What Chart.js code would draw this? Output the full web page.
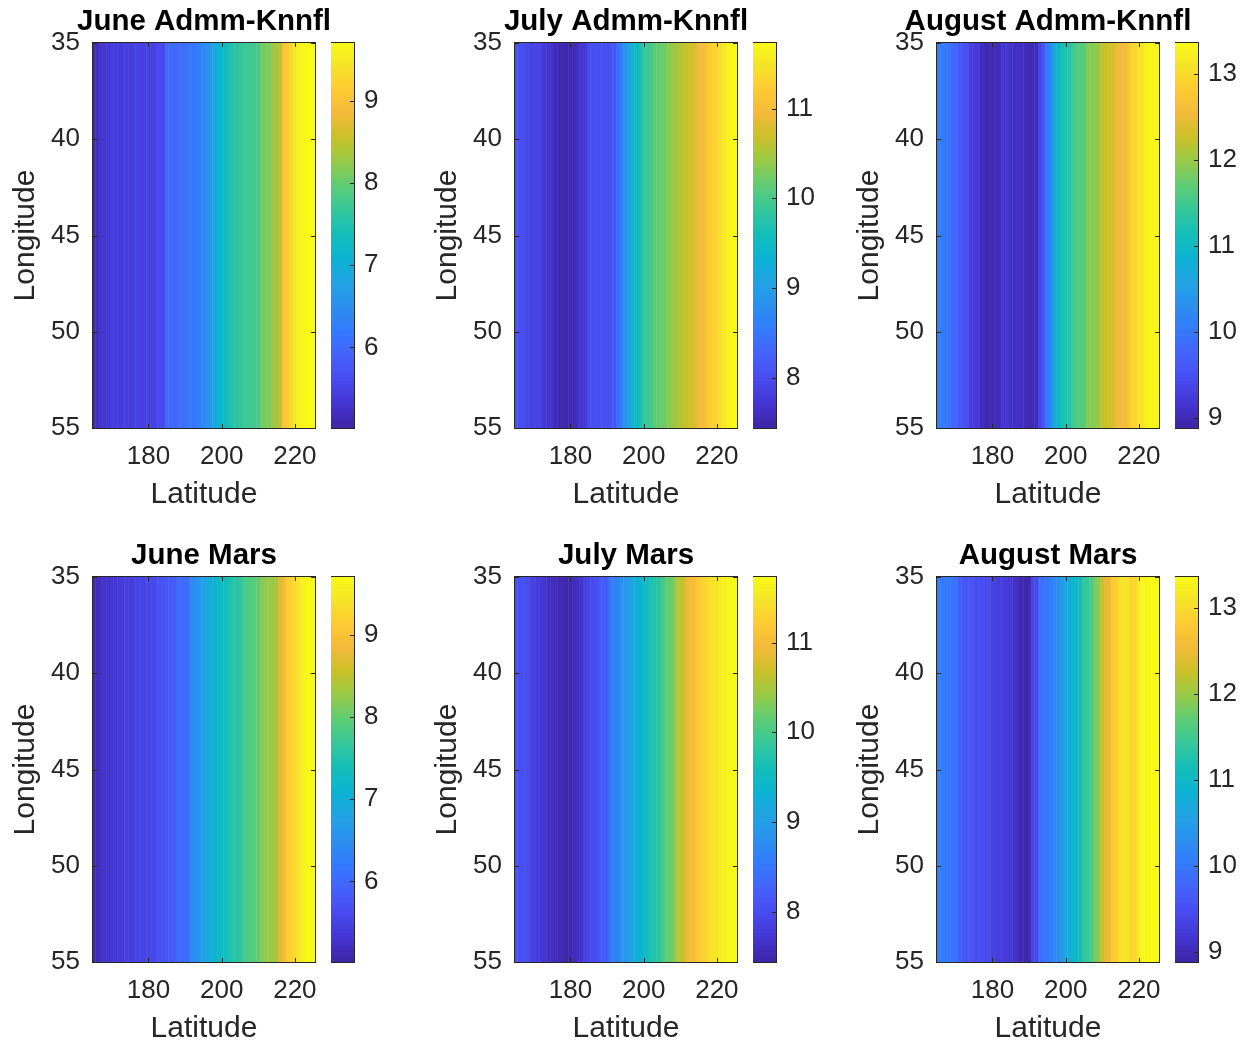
<!DOCTYPE html>
<html>
<head>
<meta charset="utf-8">
<script src="https://cdn.jsdelivr.net/npm/chart.js@4.4.0/dist/chart.umd.min.js"></script>
<style>
  body { margin: 0; background: #fff; width: 1247px; height: 1045px; position: relative; overflow: hidden; }
  canvas { position: absolute; }
</style>
</head>
<body>
<script>
// column centres along the "Latitude" axis
const latitudes = [165, 166, 167, 168, 169, 170, 171, 172, 173, 174, 175, 176, 177, 178, 179, 180,
  181, 182, 183, 184, 185, 186, 187, 188, 189, 190, 191, 192, 193, 194, 195, 196, 197, 198, 199, 200,
  201, 202, 203, 204, 205, 206, 207, 208, 209, 210, 211, 212, 213, 214, 215, 216, 217, 218, 219, 220,
  221, 222, 223, 224, 225];
const latLimits = [164.85, 225.5];
const lonLimits = [35, 55];
const latTicks = [180, 200, 220];
const lonTicks = [35, 40, 45, 50, 55];

// values per column (the fields do not change with longitude)
const juneAdmm = [5.08, 5.15, 5.28, 5.30, 5.32, 5.38, 5.40, 5.38, 5.41, 5.42, 5.40, 5.44, 5.45, 5.43, 5.46, 5.47,
  5.45, 5.50, 5.58, 5.55, 5.95, 5.98, 6.00, 5.99, 6.02, 6.06, 6.12, 6.16, 6.18, 6.24, 6.38, 6.46, 6.60, 6.82, 7.00, 7.15,
  7.25, 7.42, 7.52, 7.55, 7.62, 7.70, 7.72, 7.74, 7.72, 7.78, 8.05, 8.08, 8.12, 8.28, 8.32, 8.40, 9.00, 9.10, 9.30, 9.45,
  9.55, 9.62, 9.66, 9.68, 9.70];
const julyAdmm = [8.05, 8.03, 8.00, 7.90, 7.88, 7.86, 7.85, 7.80, 7.72, 7.68, 7.66, 7.55, 7.48, 7.46, 7.47, 7.49,
  7.52, 7.58, 7.70, 7.74, 7.95, 8.00, 8.02, 8.01, 8.03, 8.05, 8.06, 8.10, 8.38, 8.55, 8.86, 9.05, 9.40, 9.45, 9.55, 9.85,
  9.90, 9.95, 10.10, 10.14, 10.18, 10.22, 10.35, 10.42, 10.46, 10.50, 10.62, 10.66, 10.70, 10.78, 10.92, 10.98, 11.05, 11.20, 11.25, 11.30,
  11.40, 11.50, 11.62, 11.68, 11.72];
const augAdmm = [10.05, 10.02, 10.00, 9.98, 9.80, 9.76, 9.60, 9.52, 9.50, 9.25, 9.22, 9.20, 9.00, 8.95, 8.94, 8.96,
  8.98, 9.00, 9.15, 9.18, 9.08, 9.05, 9.06, 9.04, 8.97, 8.95, 8.94, 8.96, 9.35, 9.60, 10.00, 10.20, 10.78, 10.85, 11.15, 11.22,
  11.25, 11.50, 11.57, 11.60, 11.62, 11.85, 11.88, 11.92, 11.95, 12.20, 12.24, 12.26, 12.30, 12.50, 12.55, 12.58, 12.62, 12.88, 12.92, 13.05,
  13.10, 13.25, 13.28, 13.30, 13.32];
const juneMars = [5.10, 5.14, 5.22, 5.25, 5.27, 5.30, 5.33, 5.37, 5.39, 5.41, 5.42, 5.44, 5.47, 5.49, 5.50, 5.52,
  5.54, 5.58, 5.68, 5.72, 5.74, 5.76, 5.80, 5.95, 6.00, 6.04, 6.10, 6.40, 6.50, 6.58, 6.70, 6.90, 6.96, 7.05, 7.20, 7.24,
  7.30, 7.45, 7.50, 7.53, 7.56, 7.75, 7.82, 7.86, 7.90, 7.95, 8.15, 8.20, 8.24, 8.28, 8.32, 8.65, 8.80, 9.10, 9.20, 9.28,
  9.40, 9.55, 9.62, 9.66, 9.68];
const julyMars = [8.06, 8.04, 8.02, 8.00, 7.90, 7.82, 7.78, 7.74, 7.70, 7.62, 7.58, 7.55, 7.50, 7.46, 7.45, 7.47,
  7.55, 7.60, 7.65, 7.85, 7.90, 7.95, 8.00, 8.10, 8.14, 8.18, 8.50, 8.58, 8.62, 8.82, 8.88, 8.95, 9.15, 9.22, 9.30, 9.45,
  9.50, 9.68, 9.72, 9.76, 9.90, 10.10, 10.15, 10.20, 10.50, 10.58, 10.65, 10.90, 10.96, 11.00, 11.15, 11.22, 11.28, 11.40, 11.44, 11.48,
  11.55, 11.62, 11.66, 11.68, 11.70];
const augMars = [10.05, 10.02, 10.00, 9.98, 9.96, 9.95, 9.65, 9.60, 9.58, 9.55, 9.48, 9.46, 9.45, 9.44, 9.42, 9.30,
  9.26, 9.24, 9.22, 9.20, 9.18, 9.08, 9.04, 8.92, 8.90, 8.92, 9.35, 9.40, 9.85, 9.90, 9.95, 10.05, 10.20, 10.25, 10.40, 10.65,
  10.70, 10.90, 11.00, 11.05, 11.35, 11.40, 11.55, 11.82, 11.88, 12.20, 12.45, 12.50, 12.80, 12.85, 13.05, 13.10, 13.05, 12.90, 12.92, 13.20,
  13.28, 13.30, 13.32, 13.33, 13.34];

// colour limits and colorbar ticks per month
const juneRange = [5.02, 9.70];
const julyRange = [7.44, 11.73];
const augRange = [8.88, 13.36];
const juneTicks = [6, 7, 8, 9];
const julyTicks = [8, 9, 10, 11];
const augTicks = [9, 10, 11, 12, 13];

// parula, sampled every 16 entries
const parulaStops = [
  [0.2422, 0.1504, 0.6603], [0.2704, 0.2138, 0.8346], [0.2813, 0.2985, 0.9397], [0.2710, 0.3860, 0.9898],
  [0.2006, 0.4803, 0.9906], [0.1716, 0.5655, 0.9393], [0.1288, 0.6408, 0.8910], [0.0433, 0.7039, 0.8242],
  [0.0770, 0.7468, 0.7224], [0.2061, 0.7808, 0.6065], [0.3671, 0.8021, 0.4563], [0.5886, 0.7913, 0.2833],
  [0.7945, 0.7554, 0.1570], [0.9523, 0.7284, 0.2237], [0.9938, 0.7974, 0.1974], [0.9601, 0.8963, 0.1507],
  [0.9769, 0.9839, 0.0805]
];

function parula(t) {
  t = Math.min(1, Math.max(0, t));
  const pos = t * (parulaStops.length - 1);
  const i = Math.min(Math.floor(pos), parulaStops.length - 2);
  const f = pos - i;
  const a = parulaStops[i], b = parulaStops[i + 1];
  const c = a.map((v, k) => Math.round((v + (b[k] - v) * f) * 255));
  return `rgb(${c[0]},${c[1]},${c[2]})`;
}

Chart.defaults.font.family = '"Liberation Sans", Arial, Helvetica, sans-serif';
Chart.defaults.color = '#262626';

const INK = '#262626';
const tickFont = { size: 26 };
const labelFont = { size: 30 };
const noGrid = { display: false, drawTicks: false, tickLength: 0 };

// box outline with inward tick marks, like MATLAB axes
const boxPlugin = {
  id: 'box',
  afterDatasetsDraw(chart, args, opts) {
    const { ctx, chartArea: a } = chart;
    const len = 4;
    ctx.save();
    ctx.strokeStyle = INK;
    ctx.lineWidth = 1;
    ctx.strokeRect(a.left - 0.5, a.top - 0.5, a.right - a.left + 1, a.bottom - a.top + 1);
    ctx.beginPath();
    if (opts.xTicks) {
      const sx = chart.scales.x;
      sx.ticks.forEach(t => {
        const px = Math.round(sx.getPixelForValue(t.value)) + 0.5;
        ctx.moveTo(px, a.top); ctx.lineTo(px, a.top + len);
        ctx.moveTo(px, a.bottom); ctx.lineTo(px, a.bottom - len);
      });
    }
    if (opts.yTicks) {
      const sy = chart.scales.y;
      sy.ticks.forEach(t => {
        const py = Math.round(sy.getPixelForValue(t.value)) + 0.5;
        if (opts.yLeft) { ctx.moveTo(a.left, py); ctx.lineTo(a.left + len, py); }
        ctx.moveTo(a.right, py); ctx.lineTo(a.right - len, py);
      });
    }
    ctx.stroke();
    ctx.restore();
  }
};

function addCanvas(left, top, w, h) {
  const c = document.createElement('canvas');
  c.width = w; c.height = h;
  c.style.left = left + 'px';
  c.style.top = top + 'px';
  c.style.width = w + 'px';
  c.style.height = h + 'px';
  document.body.appendChild(c);
  return c;
}

const plotW = 222, plotH = 385;

function heatmap(plotLeft, plotTop, title, values, range) {
  const sideW = 85, xAxisH = 83, titleH = 40;
  // equal empty side on the right keeps the title centred over the plot
  const canvas = addCanvas(plotLeft - sideW, plotTop - titleH, 2 * sideW + plotW, titleH + plotH + xAxisH);
  new Chart(canvas, {
    type: 'bar',
    data: {
      datasets: [{
        data: latitudes.map(x => ({ x: x, y: lonLimits })),
        backgroundColor: values.map(v => parula((v - range[0]) / (range[1] - range[0]))),
        borderWidth: 0,
        barPercentage: 1.12,
        categoryPercentage: 1,
        clip: 0
      }]
    },
    options: {
      responsive: false,
      animation: false,
      devicePixelRatio: 1,
      layout: { padding: 0 },
      plugins: {
        legend: { display: false },
        tooltip: { enabled: false },
        title: {
          display: true,
          text: title,
          color: '#000',
          font: { size: 29.5, weight: 'bold', lineHeight: 1.2 },
          padding: { top: 1, bottom: 3.6 }
        },
        box: { xTicks: true, yTicks: true, yLeft: true }
      },
      scales: {
        x: {
          type: 'linear',
          offset: false,
          min: latLimits[0],
          max: latLimits[1],
          afterBuildTicks: s => { s.ticks = latTicks.map(v => ({ value: v })); },
          afterFit: s => { s.height = xAxisH; },
          grid: noGrid,
          border: { display: false },
          ticks: { font: tickFont, color: INK, padding: 13, maxRotation: 0, autoSkip: false },
          title: { display: true, text: 'Latitude', font: labelFont, color: INK, padding: { top: 0, bottom: -2 } }
        },
        y: {
          type: 'linear',
          reverse: true,
          min: lonLimits[0],
          max: lonLimits[1],
          afterBuildTicks: s => { s.ticks = lonTicks.map(v => ({ value: v })); },
          afterFit: s => { s.width = sideW; },
          grid: noGrid,
          border: { display: false },
          ticks: { font: tickFont, color: INK, padding: 13, autoSkip: false },
          title: { display: true, text: 'Longitude', font: labelFont, color: INK, padding: 0 }
        },
        spacer: {
          type: 'linear',
          position: 'right',
          min: lonLimits[0],
          max: lonLimits[1],
          afterFit: s => { s.width = sideW; },
          grid: noGrid,
          border: { display: false },
          ticks: { display: false }
        }
      }
    },
    plugins: [boxPlugin]
  });
}

function colorbar(plotLeft, plotTop, range, ticks) {
  const barW = 23, axisW = 45, pad = 30;
  const canvas = addCanvas(plotLeft + 238, plotTop - pad, barW + axisW, plotH + 2 * pad);
  const steps = 128;
  const span = range[1] - range[0];
  const datasets = [];
  for (let i = 0; i < steps; i++) {
    datasets.push({
      data: [[range[0] + span * i / steps, range[0] + span * Math.min(i + 1.5, steps) / steps]],
      backgroundColor: parula((i + 0.5) / steps),
      borderWidth: 0,
      grouped: false,
      barPercentage: 1,
      categoryPercentage: 1,
      clip: 0
    });
  }
  new Chart(canvas, {
    type: 'bar',
    data: { labels: [''], datasets: datasets },
    options: {
      responsive: false,
      animation: false,
      devicePixelRatio: 1,
      layout: { padding: { left: 0, right: 0, top: pad, bottom: pad } },
      plugins: {
        legend: { display: false },
        tooltip: { enabled: false },
        box: { xTicks: false, yTicks: true, yLeft: false }
      },
      scales: {
        x: { display: false },
        y: {
          type: 'linear',
          position: 'right',
          min: range[0],
          max: range[1],
          afterBuildTicks: s => { s.ticks = ticks.map(v => ({ value: v })); },
          afterFit: s => { s.width = axisW; },
          grid: noGrid,
          border: { display: false },
          ticks: { font: tickFont, color: INK, padding: 10, autoSkip: false }
        }
      }
    },
    plugins: [boxPlugin]
  });
}

const colLefts = [93, 515, 937];
const rowTops = [43, 577];

const panels = [
  ['June Admm-Knnfl', juneAdmm, juneRange, juneTicks],
  ['July Admm-Knnfl', julyAdmm, julyRange, julyTicks],
  ['August Admm-Knnfl', augAdmm, augRange, augTicks],
  ['June Mars', juneMars, juneRange, juneTicks],
  ['July Mars', julyMars, julyRange, julyTicks],
  ['August Mars', augMars, augRange, augTicks]
];

panels.forEach((p, i) => {
  const left = colLefts[i % 3];
  const top = rowTops[Math.floor(i / 3)];
  heatmap(left, top, p[0], p[1], p[2]);
  colorbar(left, top, p[2], p[3]);
});
</script>
</body>
</html>
